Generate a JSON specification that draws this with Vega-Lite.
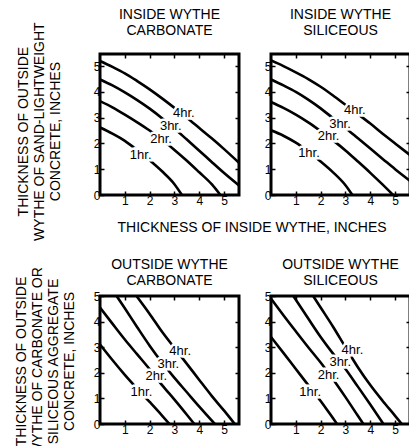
{
  "$schema": "https://vega.github.io/schema/vega-lite/v6.json",
  "background": "white",
  "padding": {"left": 14, "top": 6, "right": 0, "bottom": 0},
  "bounds": "flush",
  "config": {
    "font": "Liberation Sans",
    "view": {"stroke": "black", "strokeWidth": 3},
    "axis": {"domain": false, "grid": false, "labelFontSize": 12, "labelColor": "black", "tickColor": "black", "tickSize": -4, "tickWidth": 1.5, "labelPadding": 4, "titleFontSize": 14, "titleFontWeight": "normal", "titleColor": "black"},
    "title": {"fontSize": 14, "fontWeight": "normal", "color": "black", "anchor": "middle", "lineHeight": 16, "offset": 15},
    "text": {"font": "Liberation Sans"}
  },
  "datasets": {
    "curves": [
      {"panel": "TL", "hr": "4", "x": 0, "y": 5.2}, {"panel": "TL", "hr": "4", "x": 0.5, "y": 4.97}, {"panel": "TL", "hr": "4", "x": 1, "y": 4.72}, {"panel": "TL", "hr": "4", "x": 1.5, "y": 4.42}, {"panel": "TL", "hr": "4", "x": 2, "y": 4.1}, {"panel": "TL", "hr": "4", "x": 2.5, "y": 3.75}, {"panel": "TL", "hr": "4", "x": 3, "y": 3.38}, {"panel": "TL", "hr": "4", "x": 3.5, "y": 3.0}, {"panel": "TL", "hr": "4", "x": 4, "y": 2.6}, {"panel": "TL", "hr": "4", "x": 4.5, "y": 2.2}, {"panel": "TL", "hr": "4", "x": 5, "y": 1.78}, {"panel": "TL", "hr": "4", "x": 5.6, "y": 1.25},
      {"panel": "TL", "hr": "3", "x": 0, "y": 4.48}, {"panel": "TL", "hr": "3", "x": 0.5, "y": 4.25}, {"panel": "TL", "hr": "3", "x": 1, "y": 3.98}, {"panel": "TL", "hr": "3", "x": 1.5, "y": 3.68}, {"panel": "TL", "hr": "3", "x": 2, "y": 3.35}, {"panel": "TL", "hr": "3", "x": 2.5, "y": 2.98}, {"panel": "TL", "hr": "3", "x": 3, "y": 2.58}, {"panel": "TL", "hr": "3", "x": 3.5, "y": 2.15}, {"panel": "TL", "hr": "3", "x": 4, "y": 1.72}, {"panel": "TL", "hr": "3", "x": 4.5, "y": 1.28}, {"panel": "TL", "hr": "3", "x": 5, "y": 0.85}, {"panel": "TL", "hr": "3", "x": 5.6, "y": 0.37},
      {"panel": "TL", "hr": "2", "x": 0, "y": 3.64}, {"panel": "TL", "hr": "2", "x": 0.5, "y": 3.4}, {"panel": "TL", "hr": "2", "x": 1, "y": 3.12}, {"panel": "TL", "hr": "2", "x": 1.5, "y": 2.82}, {"panel": "TL", "hr": "2", "x": 2, "y": 2.5}, {"panel": "TL", "hr": "2", "x": 2.5, "y": 2.14}, {"panel": "TL", "hr": "2", "x": 3, "y": 1.75}, {"panel": "TL", "hr": "2", "x": 3.5, "y": 1.33}, {"panel": "TL", "hr": "2", "x": 4, "y": 0.88}, {"panel": "TL", "hr": "2", "x": 4.5, "y": 0.42}, {"panel": "TL", "hr": "2", "x": 4.85, "y": 0},
      {"panel": "TL", "hr": "1", "x": 0, "y": 2.62}, {"panel": "TL", "hr": "1", "x": 0.5, "y": 2.38}, {"panel": "TL", "hr": "1", "x": 1, "y": 2.1}, {"panel": "TL", "hr": "1", "x": 1.5, "y": 1.74}, {"panel": "TL", "hr": "1", "x": 2, "y": 1.35}, {"panel": "TL", "hr": "1", "x": 2.5, "y": 0.92}, {"panel": "TL", "hr": "1", "x": 3, "y": 0.42}, {"panel": "TL", "hr": "1", "x": 3.3, "y": 0},

      {"panel": "TR", "hr": "4", "x": 0, "y": 5.22}, {"panel": "TR", "hr": "4", "x": 0.5, "y": 5.0}, {"panel": "TR", "hr": "4", "x": 1, "y": 4.76}, {"panel": "TR", "hr": "4", "x": 1.5, "y": 4.5}, {"panel": "TR", "hr": "4", "x": 2, "y": 4.2}, {"panel": "TR", "hr": "4", "x": 2.5, "y": 3.86}, {"panel": "TR", "hr": "4", "x": 3, "y": 3.5}, {"panel": "TR", "hr": "4", "x": 3.5, "y": 3.14}, {"panel": "TR", "hr": "4", "x": 4, "y": 2.77}, {"panel": "TR", "hr": "4", "x": 4.5, "y": 2.38}, {"panel": "TR", "hr": "4", "x": 5, "y": 2.0}, {"panel": "TR", "hr": "4", "x": 5.6, "y": 1.55},
      {"panel": "TR", "hr": "3", "x": 0, "y": 4.48}, {"panel": "TR", "hr": "3", "x": 0.5, "y": 4.25}, {"panel": "TR", "hr": "3", "x": 1, "y": 4.0}, {"panel": "TR", "hr": "3", "x": 1.5, "y": 3.7}, {"panel": "TR", "hr": "3", "x": 2, "y": 3.36}, {"panel": "TR", "hr": "3", "x": 2.5, "y": 2.98}, {"panel": "TR", "hr": "3", "x": 3, "y": 2.6}, {"panel": "TR", "hr": "3", "x": 3.5, "y": 2.2}, {"panel": "TR", "hr": "3", "x": 4, "y": 1.8}, {"panel": "TR", "hr": "3", "x": 4.5, "y": 1.4}, {"panel": "TR", "hr": "3", "x": 5, "y": 1.0}, {"panel": "TR", "hr": "3", "x": 5.6, "y": 0.55},
      {"panel": "TR", "hr": "2", "x": 0, "y": 3.61}, {"panel": "TR", "hr": "2", "x": 0.5, "y": 3.38}, {"panel": "TR", "hr": "2", "x": 1, "y": 3.12}, {"panel": "TR", "hr": "2", "x": 1.5, "y": 2.82}, {"panel": "TR", "hr": "2", "x": 2, "y": 2.48}, {"panel": "TR", "hr": "2", "x": 2.5, "y": 2.12}, {"panel": "TR", "hr": "2", "x": 3, "y": 1.73}, {"panel": "TR", "hr": "2", "x": 3.5, "y": 1.3}, {"panel": "TR", "hr": "2", "x": 4, "y": 0.86}, {"panel": "TR", "hr": "2", "x": 4.5, "y": 0.4}, {"panel": "TR", "hr": "2", "x": 4.92, "y": 0},
      {"panel": "TR", "hr": "1", "x": 0, "y": 2.51}, {"panel": "TR", "hr": "1", "x": 0.5, "y": 2.3}, {"panel": "TR", "hr": "1", "x": 1, "y": 2.03}, {"panel": "TR", "hr": "1", "x": 1.5, "y": 1.68}, {"panel": "TR", "hr": "1", "x": 2, "y": 1.3}, {"panel": "TR", "hr": "1", "x": 2.5, "y": 0.88}, {"panel": "TR", "hr": "1", "x": 3, "y": 0.38}, {"panel": "TR", "hr": "1", "x": 3.28, "y": 0},

      {"panel": "BL", "hr": "4", "x": 1.47, "y": 5}, {"panel": "BL", "hr": "4", "x": 2, "y": 4.3}, {"panel": "BL", "hr": "4", "x": 2.5, "y": 3.6}, {"panel": "BL", "hr": "4", "x": 3, "y": 2.97}, {"panel": "BL", "hr": "4", "x": 3.5, "y": 2.35}, {"panel": "BL", "hr": "4", "x": 4, "y": 1.72}, {"panel": "BL", "hr": "4", "x": 4.5, "y": 1.1}, {"panel": "BL", "hr": "4", "x": 5, "y": 0.52}, {"panel": "BL", "hr": "4", "x": 5.43, "y": 0},
      {"panel": "BL", "hr": "3", "x": 0.67, "y": 5}, {"panel": "BL", "hr": "3", "x": 1, "y": 4.52}, {"panel": "BL", "hr": "3", "x": 1.5, "y": 3.78}, {"panel": "BL", "hr": "3", "x": 2, "y": 3.06}, {"panel": "BL", "hr": "3", "x": 2.5, "y": 2.4}, {"panel": "BL", "hr": "3", "x": 3, "y": 1.8}, {"panel": "BL", "hr": "3", "x": 3.5, "y": 1.24}, {"panel": "BL", "hr": "3", "x": 4, "y": 0.68}, {"panel": "BL", "hr": "3", "x": 4.63, "y": 0},
      {"panel": "BL", "hr": "2", "x": 0, "y": 4.55}, {"panel": "BL", "hr": "2", "x": 0.5, "y": 3.92}, {"panel": "BL", "hr": "2", "x": 1, "y": 3.3}, {"panel": "BL", "hr": "2", "x": 1.5, "y": 2.72}, {"panel": "BL", "hr": "2", "x": 2, "y": 2.14}, {"panel": "BL", "hr": "2", "x": 2.5, "y": 1.52}, {"panel": "BL", "hr": "2", "x": 3, "y": 0.95}, {"panel": "BL", "hr": "2", "x": 3.5, "y": 0.36}, {"panel": "BL", "hr": "2", "x": 3.8, "y": 0},
      {"panel": "BL", "hr": "1", "x": 0, "y": 3.11}, {"panel": "BL", "hr": "1", "x": 0.5, "y": 2.5}, {"panel": "BL", "hr": "1", "x": 1, "y": 1.92}, {"panel": "BL", "hr": "1", "x": 1.5, "y": 1.38}, {"panel": "BL", "hr": "1", "x": 2, "y": 0.86}, {"panel": "BL", "hr": "1", "x": 2.5, "y": 0.33}, {"panel": "BL", "hr": "1", "x": 2.8, "y": 0},

      {"panel": "BR", "hr": "4", "x": 1.7, "y": 5}, {"panel": "BR", "hr": "4", "x": 2, "y": 4.55}, {"panel": "BR", "hr": "4", "x": 2.5, "y": 3.8}, {"panel": "BR", "hr": "4", "x": 3, "y": 3.0}, {"panel": "BR", "hr": "4", "x": 3.5, "y": 2.22}, {"panel": "BR", "hr": "4", "x": 4, "y": 1.52}, {"panel": "BR", "hr": "4", "x": 4.5, "y": 0.9}, {"panel": "BR", "hr": "4", "x": 5, "y": 0.32}, {"panel": "BR", "hr": "4", "x": 5.27, "y": 0},
      {"panel": "BR", "hr": "3", "x": 0.9, "y": 5}, {"panel": "BR", "hr": "3", "x": 1.5, "y": 4.12}, {"panel": "BR", "hr": "3", "x": 2, "y": 3.4}, {"panel": "BR", "hr": "3", "x": 2.5, "y": 2.75}, {"panel": "BR", "hr": "3", "x": 3, "y": 2.15}, {"panel": "BR", "hr": "3", "x": 3.5, "y": 1.46}, {"panel": "BR", "hr": "3", "x": 4, "y": 0.76}, {"panel": "BR", "hr": "3", "x": 4.53, "y": 0},
      {"panel": "BR", "hr": "2", "x": 0, "y": 4.9}, {"panel": "BR", "hr": "2", "x": 0.5, "y": 4.25}, {"panel": "BR", "hr": "2", "x": 1, "y": 3.62}, {"panel": "BR", "hr": "2", "x": 1.5, "y": 3.0}, {"panel": "BR", "hr": "2", "x": 2, "y": 2.4}, {"panel": "BR", "hr": "2", "x": 2.5, "y": 1.75}, {"panel": "BR", "hr": "2", "x": 3, "y": 1.05}, {"panel": "BR", "hr": "2", "x": 3.5, "y": 0.32}, {"panel": "BR", "hr": "2", "x": 3.72, "y": 0},
      {"panel": "BR", "hr": "1", "x": 0, "y": 3.4}, {"panel": "BR", "hr": "1", "x": 0.5, "y": 2.78}, {"panel": "BR", "hr": "1", "x": 1, "y": 2.15}, {"panel": "BR", "hr": "1", "x": 1.5, "y": 1.52}, {"panel": "BR", "hr": "1", "x": 2, "y": 0.9}, {"panel": "BR", "hr": "1", "x": 2.5, "y": 0.22}, {"panel": "BR", "hr": "1", "x": 2.66, "y": 0}
    ],
    "labels": [
      {"panel": "TL", "label": "4hr.", "x": 3.38, "y": 3.18}, {"panel": "TL", "label": "3hr.", "x": 2.85, "y": 2.69}, {"panel": "TL", "label": "2hr.", "x": 2.46, "y": 2.17}, {"panel": "TL", "label": "1hr.", "x": 1.64, "y": 1.56},
      {"panel": "TR", "label": "4hr.", "x": 3.38, "y": 3.29}, {"panel": "TR", "label": "3hr.", "x": 2.78, "y": 2.77}, {"panel": "TR", "label": "2hr.", "x": 2.32, "y": 2.27}, {"panel": "TR", "label": "1hr.", "x": 1.53, "y": 1.61},
      {"panel": "BL", "label": "4hr.", "x": 3.23, "y": 2.85}, {"panel": "BL", "label": "3hr.", "x": 2.75, "y": 2.36}, {"panel": "BL", "label": "2hr.", "x": 2.27, "y": 1.86}, {"panel": "BL", "label": "1hr.", "x": 1.67, "y": 1.24},
      {"panel": "BR", "label": "4hr.", "x": 3.28, "y": 2.9}, {"panel": "BR", "label": "3hr.", "x": 2.79, "y": 2.43}, {"panel": "BR", "label": "2hr.", "x": 2.32, "y": 1.91}, {"panel": "BR", "label": "1hr.", "x": 1.58, "y": 1.24}
    ]
  },
  "spacing": 242,
  "vconcat": [
    {
      "title": {"text": ["THICKNESS OF OUTSIDE", "WYTHE OF SAND-LIGHTWEIGHT", "CONCRETE, INCHES"], "orient": "left", "anchor": "middle", "offset": 29, "dx": -11},
      "vconcat": [
        {
          "spacing": 32,
          "bounds": "flush",
          "title": {"text": "THICKNESS OF INSIDE WYTHE, INCHES", "orient": "bottom", "anchor": "middle", "offset": 13},
          "hconcat": [
            {
              "width": 139, "height": 141,
              "title": {"text": ["INSIDE WYTHE", "CARBONATE"]},
              "resolve": {"axis": {"x": "independent", "y": "independent"}},
              "layer": [
                {"data": {"name": "curves"}, "transform": [{"filter": "datum.panel === 'TL'"}],
                 "mark": {"type": "line", "color": "black", "strokeWidth": 2.6, "interpolate": "monotone", "clip": true},
                 "encoding": {
                   "x": {"field": "x", "type": "quantitative", "scale": {"domain": [0, 5.6], "nice": false, "zero": false}, "axis": {"values": [1, 2, 3, 4, 5], "title": null}},
                   "y": {"field": "y", "type": "quantitative", "scale": {"domain": [0, 5.47], "nice": false, "zero": false}, "axis": {"values": [0, 1, 2, 3, 4, 5], "title": null}},
                   "detail": {"field": "hr"}}},
                {"data": {"name": "labels"}, "transform": [{"filter": "datum.panel === 'TL'"}],
                 "mark": {"type": "text", "fontSize": 13, "stroke": "white", "strokeWidth": 5, "fill": "white"},
                 "encoding": {
                   "x": {"field": "x", "type": "quantitative", "axis": {"orient": "top", "values": [1, 2, 3, 4, 5], "labels": false, "title": null}},
                   "y": {"field": "y", "type": "quantitative", "axis": {"orient": "right", "values": [1, 2, 3, 4, 5], "labels": false, "title": null}},
                   "text": {"field": "label"}}},
                {"data": {"name": "labels"}, "transform": [{"filter": "datum.panel === 'TL'"}],
                 "mark": {"type": "text", "fontSize": 13, "color": "black"},
                 "encoding": {
                   "x": {"field": "x", "type": "quantitative", "axis": null},
                   "y": {"field": "y", "type": "quantitative", "axis": null},
                   "text": {"field": "label"}}}
              ]
            },
            {
              "width": 139, "height": 141,
              "title": {"text": ["INSIDE WYTHE", "SILICEOUS"]},
              "resolve": {"axis": {"x": "independent", "y": "independent"}},
              "layer": [
                {"data": {"name": "curves"}, "transform": [{"filter": "datum.panel === 'TR'"}],
                 "mark": {"type": "line", "color": "black", "strokeWidth": 2.6, "interpolate": "monotone", "clip": true},
                 "encoding": {
                   "x": {"field": "x", "type": "quantitative", "scale": {"domain": [0, 5.6], "nice": false, "zero": false}, "axis": {"values": [1, 2, 3, 4, 5], "title": null}},
                   "y": {"field": "y", "type": "quantitative", "scale": {"domain": [0, 5.47], "nice": false, "zero": false}, "axis": {"values": [0, 1, 2, 3, 4, 5], "title": null}},
                   "detail": {"field": "hr"}}},
                {"data": {"name": "labels"}, "transform": [{"filter": "datum.panel === 'TR'"}],
                 "mark": {"type": "text", "fontSize": 13, "stroke": "white", "strokeWidth": 5, "fill": "white"},
                 "encoding": {
                   "x": {"field": "x", "type": "quantitative", "axis": {"orient": "top", "values": [1, 2, 3, 4, 5], "labels": false, "title": null}},
                   "y": {"field": "y", "type": "quantitative", "axis": {"orient": "right", "values": [1, 2, 3, 4, 5], "labels": false, "title": null}},
                   "text": {"field": "label"}}},
                {"data": {"name": "labels"}, "transform": [{"filter": "datum.panel === 'TR'"}],
                 "mark": {"type": "text", "fontSize": 13, "color": "black"},
                 "encoding": {
                   "x": {"field": "x", "type": "quantitative", "axis": null},
                   "y": {"field": "y", "type": "quantitative", "axis": null},
                   "text": {"field": "label"}}}
              ]
            }
          ]
        }
      ]
    },
    {
      "spacing": 32,
      "bounds": "flush",
      "title": {"text": ["THICKNESS OF OUTSIDE", "WYTHE OF CARBONATE OR", "SILICEOUS AGGREGATE", "CONCRETE, INCHES"], "orient": "left", "anchor": "middle", "offset": 15, "dx": -15},
      "hconcat": [
        {
          "width": 139, "height": 128,
          "title": {"text": ["OUTSIDE WYTHE", "CARBONATE"], "offset": 2},
          "resolve": {"axis": {"x": "independent", "y": "independent"}},
          "layer": [
            {"data": {"name": "curves"}, "transform": [{"filter": "datum.panel === 'BL'"}],
             "mark": {"type": "line", "color": "black", "strokeWidth": 2.6, "interpolate": "monotone", "clip": true},
             "encoding": {
               "x": {"field": "x", "type": "quantitative", "scale": {"domain": [0, 5.6], "nice": false, "zero": false}, "axis": {"values": [1, 2, 3, 4, 5], "title": null}},
               "y": {"field": "y", "type": "quantitative", "scale": {"domain": [0, 5], "nice": false, "zero": false}, "axis": {"values": [0, 1, 2, 3, 4, 5], "title": null}},
               "detail": {"field": "hr"}}},
            {"data": {"name": "labels"}, "transform": [{"filter": "datum.panel === 'BL'"}],
             "mark": {"type": "text", "fontSize": 13, "stroke": "white", "strokeWidth": 5, "fill": "white"},
             "encoding": {
               "x": {"field": "x", "type": "quantitative", "axis": {"orient": "top", "values": [1, 2, 3, 4, 5], "labels": false, "title": null}},
               "y": {"field": "y", "type": "quantitative", "axis": {"orient": "right", "values": [1, 2, 3, 4], "labels": false, "title": null}},
               "text": {"field": "label"}}},
            {"data": {"name": "labels"}, "transform": [{"filter": "datum.panel === 'BL'"}],
             "mark": {"type": "text", "fontSize": 13, "color": "black"},
             "encoding": {
               "x": {"field": "x", "type": "quantitative", "axis": null},
               "y": {"field": "y", "type": "quantitative", "axis": null},
               "text": {"field": "label"}}}
          ]
        },
        {
          "width": 139, "height": 128,
          "title": {"text": ["OUTSIDE WYTHE", "SILICEOUS"], "offset": 2},
          "resolve": {"axis": {"x": "independent", "y": "independent"}},
          "layer": [
            {"data": {"name": "curves"}, "transform": [{"filter": "datum.panel === 'BR'"}],
             "mark": {"type": "line", "color": "black", "strokeWidth": 2.6, "interpolate": "monotone", "clip": true},
             "encoding": {
               "x": {"field": "x", "type": "quantitative", "scale": {"domain": [0, 5.6], "nice": false, "zero": false}, "axis": {"values": [1, 2, 3, 4, 5], "title": null}},
               "y": {"field": "y", "type": "quantitative", "scale": {"domain": [0, 5], "nice": false, "zero": false}, "axis": {"values": [0, 1, 2, 3, 4, 5], "title": null}},
               "detail": {"field": "hr"}}},
            {"data": {"name": "labels"}, "transform": [{"filter": "datum.panel === 'BR'"}],
             "mark": {"type": "text", "fontSize": 13, "stroke": "white", "strokeWidth": 5, "fill": "white"},
             "encoding": {
               "x": {"field": "x", "type": "quantitative", "axis": {"orient": "top", "values": [1, 2, 3, 4, 5], "labels": false, "title": null}},
               "y": {"field": "y", "type": "quantitative", "axis": {"orient": "right", "values": [1, 2, 3, 4], "labels": false, "title": null}},
               "text": {"field": "label"}}},
            {"data": {"name": "labels"}, "transform": [{"filter": "datum.panel === 'BR'"}],
             "mark": {"type": "text", "fontSize": 13, "color": "black"},
             "encoding": {
               "x": {"field": "x", "type": "quantitative", "axis": null},
               "y": {"field": "y", "type": "quantitative", "axis": null},
               "text": {"field": "label"}}}
          ]
        }
      ]
    }
  ]
}
